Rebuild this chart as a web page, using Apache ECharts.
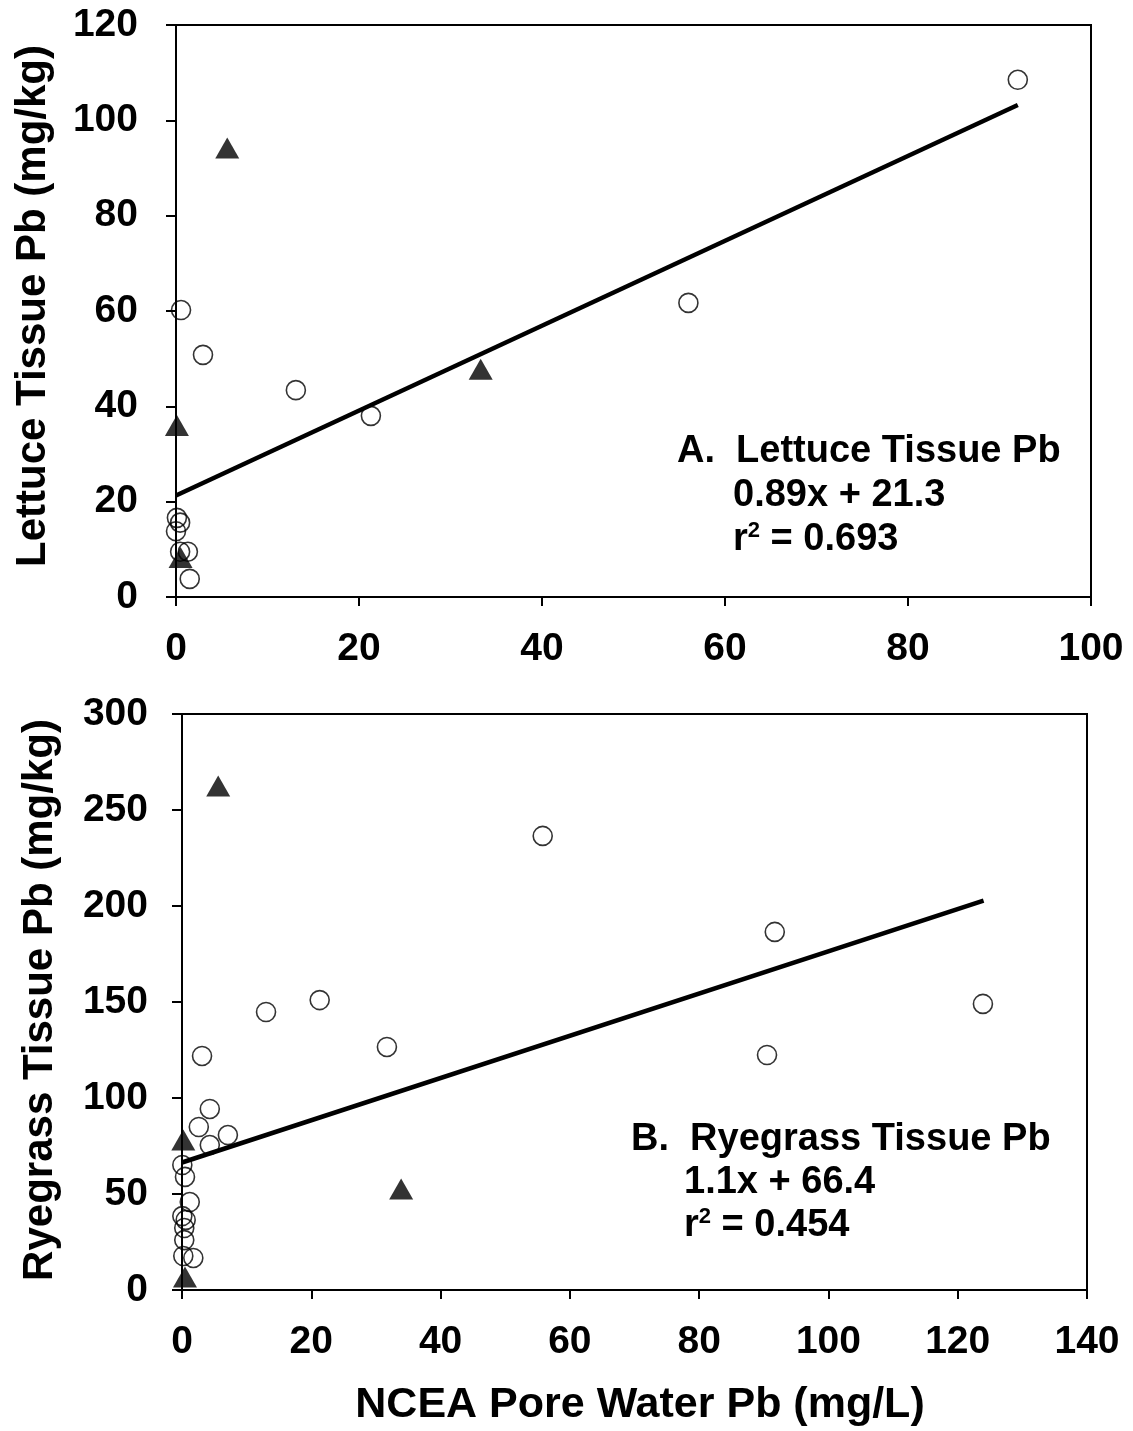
<!DOCTYPE html>
<html>
<head>
<meta charset="utf-8">
<script src="https://cdn.jsdelivr.net/npm/echarts@6/dist/echarts.min.js"></script>
<style>
html,body{margin:0;padding:0;background:#fff;}
#main{width:1133px;height:1431px;}
</style>
</head>
<body>
<div id="main"></div>
<script>
// A. lettuce tissue Pb vs pore water Pb
var lettuceCircX = [92.0, 56.0, 21.3, 13.1, 2.95, 0.55, 0.1, 0.45, 0.0, 0.45, 1.3, 1.5];
var lettuceCircY = [108.5, 61.7, 38.0, 43.4, 50.8, 60.2, 16.6, 15.6, 13.8, 9.5, 9.5, 3.8];
var lettuceTriX = [5.6, 33.3, 0.1, 0.5];
var lettuceTriY = [94.2, 47.8, 36.0, 8.3];
var lettuceFitX = [0, 92];
var lettuceFitY = [21.3, 103.2];

// B. ryegrass tissue Pb vs pore water Pb
var ryeCircX = [55.8, 91.7, 123.9, 90.5, 13.0, 21.3, 31.7, 3.1, 4.3, 2.6, 7.1, 4.3, 0.05, 0.46, 1.2, 0.05, 0.57, 0.35, 0.35, 0.2, 1.75];
var ryeCircY = [236.5, 186.5, 149.0, 122.4, 144.8, 151.0, 126.6, 121.9, 94.3, 84.9, 80.7, 75.5, 65.1, 58.9, 45.8, 38.5, 36.5, 32.3, 26.0, 17.7, 16.7];
var ryeTriX = [5.6, 33.9, 0.2, 0.46];
var ryeTriY = [262.5, 52.6, 78.1, 6.8];
var ryeFitX = [0, 124];
var ryeFitY = [66.4, 202.8];

var topYTicks = [0, 120, 20];
var topXTicks = [0, 100, 20];
var botYTicks = [0, 300, 50];
var botXTicks = [0, 140, 20];

function pairs(xs, ys){
	var out = [];
	for(var i = 0; i < xs.length; i++){
		out.push([xs[i], ys[i]]);
	}
	return out;
}

var FONT = '"Liberation Sans", Arial, sans-serif';

function xAxisCfg(idx, t){
	return {
		type: 'value', gridIndex: idx, min: t[0], max: t[1], interval: t[2],
		axisLine: {show: true, onZero: false, lineStyle: {color: '#000', width: 2}},
		axisTick: {show: true, inside: false, length: 9, lineStyle: {color: '#000', width: 2}},
		axisLabel: {color: '#000', fontSize: 39, fontWeight: 'bold', fontFamily: FONT, margin: 33},
		splitLine: {show: false}
	};
}
function yAxisCfg(idx, t, gap){
	return {
		type: 'value', gridIndex: idx, min: t[0], max: t[1], interval: t[2],
		axisLine: {show: true, onZero: false, lineStyle: {color: '#000', width: 2}},
		axisTick: {show: true, inside: false, length: 10, lineStyle: {color: '#000', width: 2}},
		axisLabel: {color: '#000', fontSize: 39, fontWeight: 'bold', fontFamily: FONT, margin: gap},
		splitLine: {show: false}
	};
}

var circleStyle = {color: 'rgba(0,0,0,0)', borderColor: '#000', borderWidth: 1.6};
var triStyle = {color: '#000'};
var supStyle = {fontSize: 22, fontWeight: 'bold', fontFamily: FONT, verticalAlign: 'top', padding: [0, 0, 18, 0]};

var myChart = echarts.init(document.getElementById('main'));
var option = {
	backgroundColor: '#fff',
	animation: false,
	grid: [
		{left: 176, top: 25, width: 915, height: 572, show: true, borderColor: '#000', borderWidth: 2, backgroundColor: 'transparent', outerBoundsMode: 'none'},
		{left: 182, top: 714, width: 905, height: 576, show: true, borderColor: '#000', borderWidth: 2, backgroundColor: 'transparent', outerBoundsMode: 'none'}
	],
	xAxis: [xAxisCfg(0, topXTicks), xAxisCfg(1, botXTicks)],
	yAxis: [yAxisCfg(0, topYTicks, 38), yAxisCfg(1, botYTicks, 34)],
	series: [
		{type: 'line', xAxisIndex: 0, yAxisIndex: 0, data: pairs(lettuceFitX, lettuceFitY), symbol: 'none', lineStyle: {color: '#000', width: 4.5}},
		{type: 'scatter', xAxisIndex: 0, yAxisIndex: 0, data: pairs(lettuceCircX, lettuceCircY), symbol: 'circle', symbolSize: 19, itemStyle: circleStyle},
		{type: 'scatter', xAxisIndex: 0, yAxisIndex: 0, data: pairs(lettuceTriX, lettuceTriY), symbol: 'triangle', symbolSize: [24, 21], itemStyle: triStyle},
		{type: 'line', xAxisIndex: 1, yAxisIndex: 1, data: pairs(ryeFitX, ryeFitY), symbol: 'none', lineStyle: {color: '#000', width: 4.5}},
		{type: 'scatter', xAxisIndex: 1, yAxisIndex: 1, data: pairs(ryeCircX, ryeCircY), symbol: 'circle', symbolSize: 19, itemStyle: circleStyle},
		{type: 'scatter', xAxisIndex: 1, yAxisIndex: 1, data: pairs(ryeTriX, ryeTriY), symbol: 'triangle', symbolSize: [24, 21], itemStyle: triStyle}
	],
	graphic: [
		{type: 'text', x: 33, y: 306, rotation: Math.PI / 2,
			style: {text: 'Lettuce Tissue Pb (mg/kg)', fill: '#000', font: 'bold 42px ' + FONT, align: 'center', verticalAlign: 'middle'}},
		{type: 'text', x: 40, y: 1000, rotation: Math.PI / 2,
			style: {text: 'Ryegrass Tissue Pb (mg/kg)', fill: '#000', font: 'bold 42px ' + FONT, align: 'center', verticalAlign: 'middle'}},
		{type: 'text', x: 640, y: 1405,
			style: {text: 'NCEA Pore Water Pb (mg/L)', fill: '#000', font: 'bold 43px ' + FONT, align: 'center', verticalAlign: 'middle'}},
		// panel A annotation
		{type: 'text', x: 677, y: 452,
			style: {text: 'A.  Lettuce Tissue Pb', fill: '#000', font: 'bold 38px ' + FONT, verticalAlign: 'middle'}},
		{type: 'text', x: 733, y: 496,
			style: {text: '0.89x + 21.3', fill: '#000', font: 'bold 38px ' + FONT, verticalAlign: 'middle'}},
		{type: 'text', x: 733, y: 540,
			style: {text: 'r{sup|2} = 0.693', fill: '#000', font: 'bold 38px ' + FONT, verticalAlign: 'middle', rich: {sup: supStyle}}},
		// panel B annotation
		{type: 'text', x: 631, y: 1140,
			style: {text: 'B.  Ryegrass Tissue Pb', fill: '#000', font: 'bold 38px ' + FONT, verticalAlign: 'middle'}},
		{type: 'text', x: 684, y: 1183,
			style: {text: '1.1x + 66.4', fill: '#000', font: 'bold 38px ' + FONT, verticalAlign: 'middle'}},
		{type: 'text', x: 684, y: 1226,
			style: {text: 'r{sup|2} = 0.454', fill: '#000', font: 'bold 38px ' + FONT, verticalAlign: 'middle', rich: {sup: supStyle}}}
	]
};
myChart.setOption(option);
</script>
</body>
</html>
